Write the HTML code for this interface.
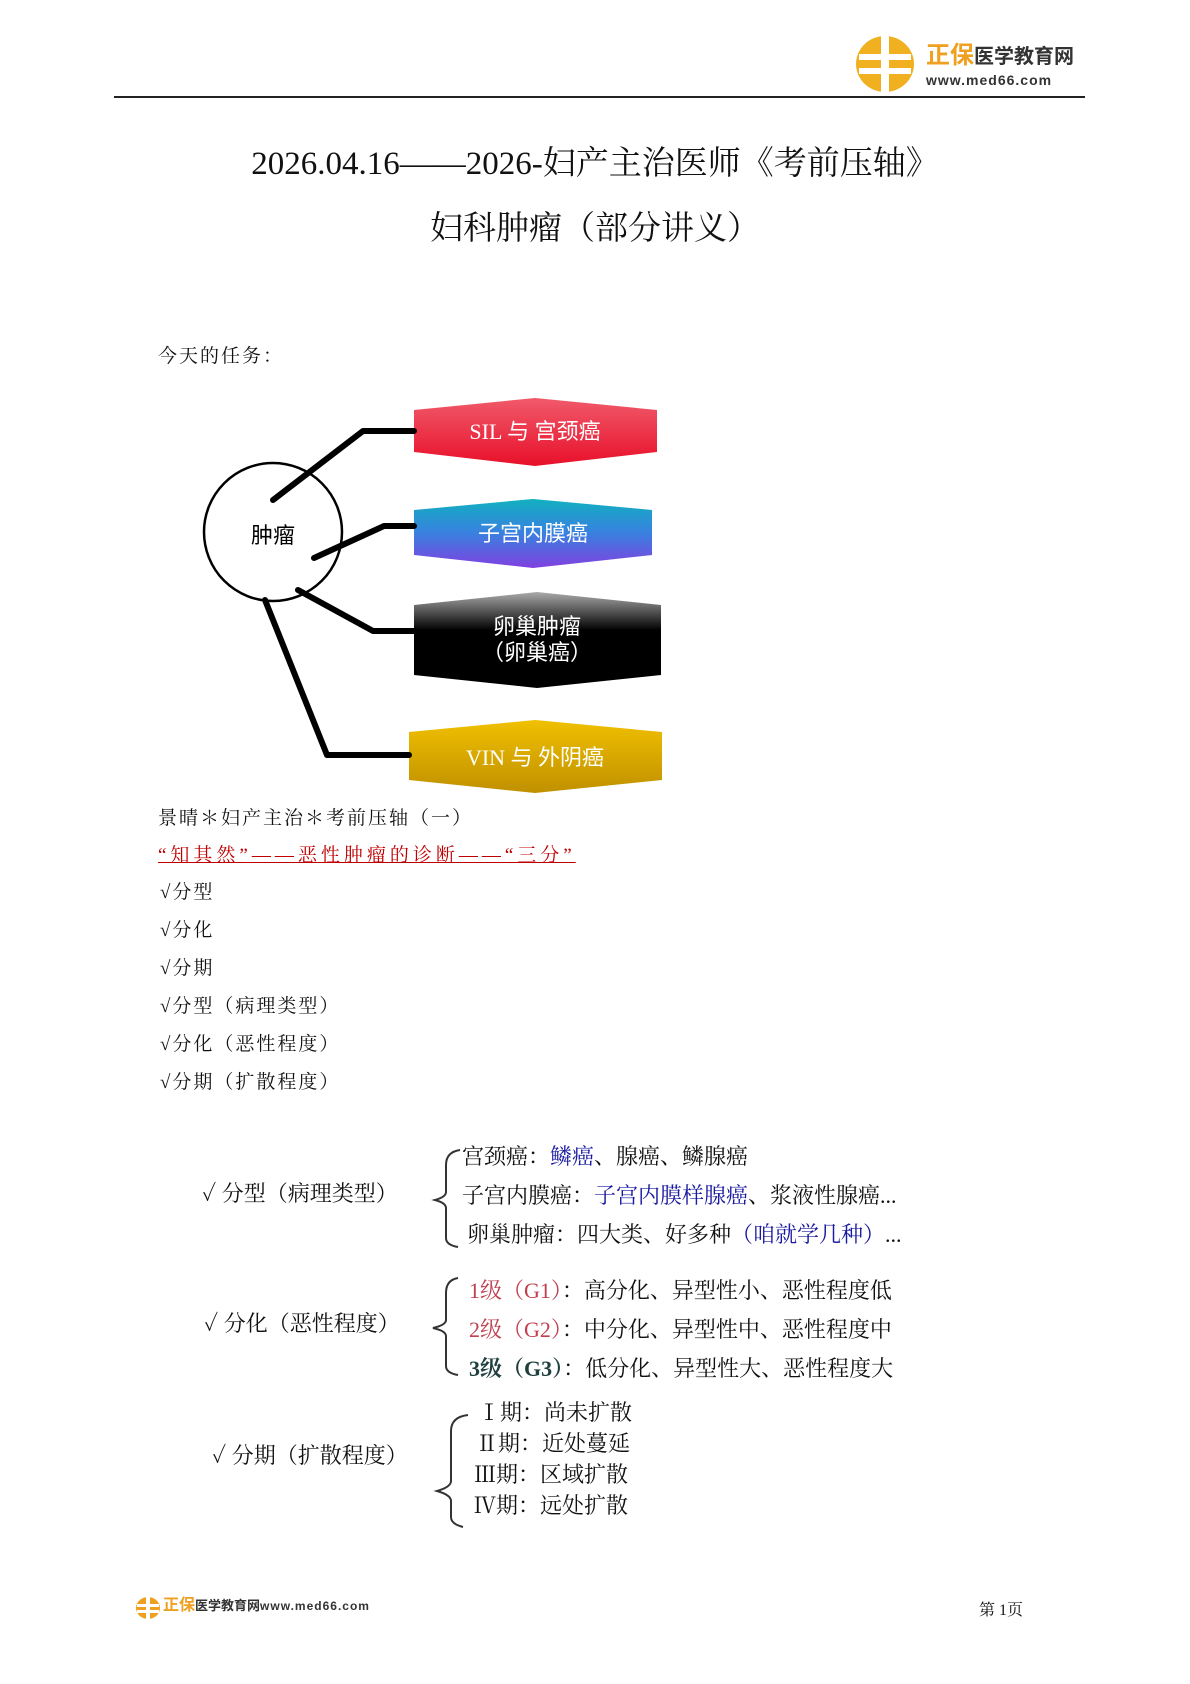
<!DOCTYPE html>
<html><head><meta charset="utf-8"><style>
body{margin:0;width:1190px;height:1684px;background:#fff;position:relative;overflow:hidden;font-family:"Liberation Serif","Noto Serif CJK SC",serif;color:#111}
.a{position:absolute;white-space:nowrap;line-height:1}
.s{font-family:"Liberation Sans","Noto Sans CJK SC",sans-serif}
.l{letter-spacing:2px}
</style></head><body>
<svg class="a" style="left:855px;top:34px" width="66" height="60" viewBox="0 0 66 60">
<ellipse cx="30" cy="30" rx="29" ry="28" fill="#f0b020"/>
<rect x="26" y="2" width="8" height="56" fill="#fff"/><rect x="4" y="20" width="52" height="6" fill="#fff"/><rect x="4" y="34" width="52" height="6" fill="#fff"/>
</svg>
<div class="a s" style="left:926px;top:44px;font-size:24px;font-weight:bold;color:#f0a020">正保<span style="color:#333;font-size:20px">医学教育网</span></div>
<div class="a s" style="left:926px;top:73px;font-size:14px;font-weight:bold;color:#333;letter-spacing:1px">www.med66.com</div>
<div class="a" style="left:114px;top:96px;width:971px;height:2px;background:#222"></div>

<div class="a" style="left:0;width:1190px;text-align:center;top:148px;font-size:33px">2026.04.16——2026-妇产主治医师《考前压轴》</div>
<div class="a" style="left:0;width:1190px;text-align:center;top:213px;font-size:33px">妇科肿瘤（部分讲义）</div>

<div class="a l" style="left:158px;top:347px;font-size:19px">今天的任务：</div>

<svg class="a" style="left:0;top:0" width="1190" height="820">
<defs>
<linearGradient id="r" x1="0" y1="0" x2="0" y2="1"><stop offset="0" stop-color="#f05a6a"/><stop offset="1" stop-color="#e8102a"/></linearGradient>
<linearGradient id="b" x1="0" y1="0" x2="0" y2="1"><stop offset="0" stop-color="#10b0c0"/><stop offset="0.5" stop-color="#3a80e0"/><stop offset="1" stop-color="#8040e0"/></linearGradient>
<linearGradient id="k" x1="0" y1="0" x2="0" y2="1"><stop offset="0" stop-color="#aaa"/><stop offset="0.4" stop-color="#000"/><stop offset="1" stop-color="#000"/></linearGradient>
<linearGradient id="g" x1="0" y1="0" x2="0" y2="1"><stop offset="0" stop-color="#f0c000"/><stop offset="1" stop-color="#c09000"/></linearGradient>
</defs>
<polygon points="414,410 535,398 657,410 657,452 535,466 414,452" fill="url(#r)"/>
<polygon points="414,510 533,499 652,510 652,555 533,568 414,555" fill="url(#b)"/>
<polygon points="414,605 537,592 661,605 661,675 537,688 414,675" fill="url(#k)"/>
<polygon points="409,732 535,720 662,732 662,780 535,793 409,780" fill="url(#g)"/>
<text x="535" y="439" font-size="22" fill="#fff" text-anchor="middle" font-family="Liberation Serif,Noto Sans CJK SC,sans-serif">SIL 与 宫颈癌</text>
<text x="533" y="541" font-size="22" fill="#fff" text-anchor="middle" font-family="Noto Sans CJK SC,sans-serif">子宫内膜癌</text>
<text x="537" y="634" font-size="22" fill="#fff" text-anchor="middle" font-family="Noto Sans CJK SC,sans-serif">卵巢肿瘤</text>
<text x="537" y="660" font-size="22" fill="#fff" text-anchor="middle" font-family="Noto Sans CJK SC,sans-serif">（卵巢癌）</text>
<text x="535" y="765" font-size="22" fill="#fff" text-anchor="middle" font-family="Liberation Serif,Noto Sans CJK SC,sans-serif">VIN 与 外阴癌</text>
<circle cx="273" cy="532" r="69" fill="none" stroke="#000" stroke-width="2.5"/>
<text x="273" y="543" font-size="22" text-anchor="middle" font-family="Noto Sans CJK SC,sans-serif">肿瘤</text>
<g fill="none" stroke="#000" stroke-width="6" stroke-linejoin="round" stroke-linecap="round">
<polyline points="273,500 363,431 414,431"/>
<polyline points="314,558 384,526 414,526"/>
<polyline points="298,590 373,631 414,631"/>
<polyline points="265,600 327,755 409,755"/>
</g>
</svg>

<div class="a l" style="left:158px;top:809px;font-size:19px">景晴＊妇产主治＊考前压轴（一）</div>
<div class="a" style="left:158px;top:846px;font-size:19px;color:#c00000;text-decoration:underline;padding-bottom:2px;letter-spacing:4px">“知其然”——恶性肿瘤的诊断——“三分”</div>
<div class="a l" style="left:160px;top:883px;font-size:19px">√分型</div>
<div class="a l" style="left:160px;top:921px;font-size:19px">√分化</div>
<div class="a l" style="left:160px;top:959px;font-size:19px">√分期</div>
<div class="a l" style="left:160px;top:997px;font-size:19px">√分型（病理类型）</div>
<div class="a l" style="left:160px;top:1035px;font-size:19px">√分化（恶性程度）</div>
<div class="a l" style="left:160px;top:1073px;font-size:19px">√分期（扩散程度）</div>

<svg class="a" style="left:0;top:1135px" width="480" height="400">
<g fill="none" stroke="#333" stroke-width="2">
<path d="M460,15 Q446,17 446,30 L446,57 Q446,62 435,65 Q446,68 446,73 L446,103 Q446,110 458,112"/>
<path d="M458,143 Q446,145 446,158 L446,185 Q446,190 433,193 Q446,196 446,201 L446,231 Q446,238 458,240"/>
<path d="M468,280 Q451,282 451,296 L451,346 Q451,352 437,356 Q451,360 451,366 L451,382 Q451,389 463,392"/>
</g>
</svg>
<div class="a" style="left:202px;top:1183px;font-size:22px">✓ 分型（病理类型）</div>
<div class="a" style="left:462px;top:1146px;font-size:22px">宫颈癌：<span style="color:#1a1aa0">鳞癌</span>、腺癌、鳞腺癌</div>
<div class="a" style="left:462px;top:1185px;font-size:22px">子宫内膜癌：<span style="color:#1a1aa0">子宫内膜样腺癌</span>、浆液性腺癌...</div>
<div class="a" style="left:467px;top:1224px;font-size:22px">卵巢肿瘤：四大类、好多种<span style="color:#1a1aa0">（咱就学几种）</span>...</div>

<div class="a" style="left:204px;top:1313px;font-size:22px">✓ 分化（恶性程度）</div>
<div class="a" style="left:469px;top:1280px;font-size:22px"><span style="color:#c04050">1级（G1）</span>：高分化、异型性小、恶性程度低</div>
<div class="a" style="left:469px;top:1319px;font-size:22px"><span style="color:#c04050">2级（G2）</span>：中分化、异型性中、恶性程度中</div>
<div class="a" style="left:469px;top:1358px;font-size:22px"><span style="color:#204040;font-weight:bold">3级（G3）</span>：低分化、异型性大、恶性程度大</div>

<div class="a" style="left:212px;top:1445px;font-size:22px">✓ 分期（扩散程度）</div>
<div class="a" style="left:478px;top:1402px;font-size:22px">Ⅰ期：尚未扩散</div>
<div class="a" style="left:476px;top:1433px;font-size:22px">Ⅱ期：近处蔓延</div>
<div class="a" style="left:474px;top:1464px;font-size:22px">Ⅲ期：区域扩散</div>
<div class="a" style="left:474px;top:1495px;font-size:22px">Ⅳ期：远处扩散</div>

<svg class="a" style="left:135px;top:1596px" width="26" height="24"><ellipse cx="13" cy="12" rx="12" ry="11" fill="#f0a020"/><rect x="11" y="1" width="4" height="22" fill="#fff"/><rect x="2" y="8" width="22" height="3" fill="#fff"/><rect x="2" y="14" width="22" height="3" fill="#fff"/></svg>
<div class="a s" style="left:163px;top:1598px;font-size:16px;font-weight:bold;color:#f0a020">正保<span style="color:#333;font-size:13px">医学教育网</span><span style="color:#333;font-size:12px;letter-spacing:1px">www.med66.com</span></div>
<div class="a" style="left:979px;top:1603px;font-size:16px">第 1页</div>
</body></html>
